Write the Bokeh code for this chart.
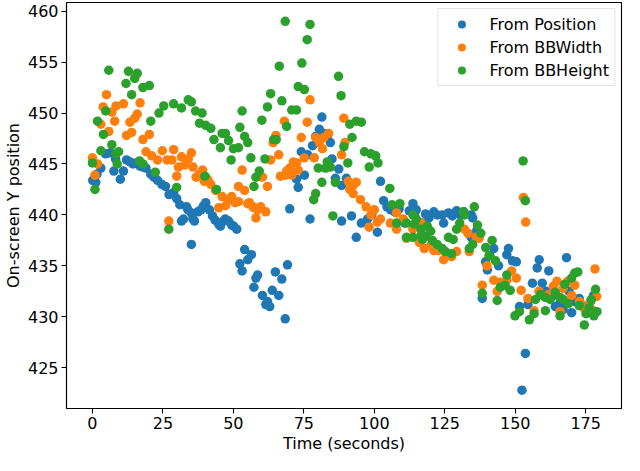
from bokeh.plotting import figure
from bokeh.models import Range1d, FixedTicker, Legend, LegendItem
from bokeh.embed import file_html
from bokeh.resources import INLINE

# ---- data: (time in seconds, on-screen Y position) ----
pos_t = [0.1, 1.2, 1.6, 3.0, 4.7, 6.4, 7.6, 8.2, 9.9, 11.0, 12.1, 13.4, 14.4, 15.6, 16.9, 17.9, 19.0,
         20.7, 21.8, 23.1, 24.6, 25.9, 27.2, 28.8, 29.9, 31.0, 31.6, 32.3, 33.4, 33.9, 35.1, 35.1, 35.6,
         36.2, 37.4, 38.5, 39.4, 40.2, 41.5, 42.6, 43.5, 44.8, 45.4, 46.0, 47.1, 48.3, 49.4, 50.1, 51.2,
         52.3, 53.1, 54.0, 55.1, 56.4, 57.3, 58.0, 58.6, 60.3, 61.5, 62.1, 62.9, 63.8, 64.9, 66.1, 67.2,
         68.4, 69.2, 70.0, 72.4, 73.0, 74.1, 75.2, 76.4, 77.2, 78.1, 79.2, 80.5, 81.4, 82.3, 83.3, 84.4,
         85.0, 86.2, 87.4, 88.4, 88.4, 90.1, 91.9, 93.6, 95.4, 97.6, 99.1, 101.1, 102.2, 103.3, 104.5,
         105.8, 107.3, 108.8, 110.8, 112.4, 113.7, 114.2, 114.9, 117.1, 118.2, 119.4, 121.1, 122.4,
         124.1, 124.6, 126.3, 127.7, 129.2, 130.6, 131.8, 133.7, 134.4, 134.4, 134.9, 136.4, 138.3,
         139.5, 140.1, 141.0, 142.4, 144.1, 147.0, 147.6, 149.0, 150.4, 151.5, 152.4, 153.6, 154.5,
         156.1, 157.8, 158.5, 159.6, 160.9, 161.9, 163.0, 164.2, 165.9, 167.0, 168.2, 169.1, 170.0,
         171.1, 172.7, 174.2, 175.7, 176.7, 177.8, 178.4]
pos_y = [443.4, 443.2, 444.0, 444.6, 446.0, 446.1, 444.3, 445.5, 443.5, 444.3, 445.4, 445.2, 445.0, 445.1,
         444.8, 444.7, 444.6, 444.0, 443.7, 443.4, 443.0, 442.8, 442.0, 442.2, 441.6, 441.0, 439.4, 439.6,
         440.8, 440.5, 440.2, 437.1, 439.6, 439.4, 440.3, 440.5, 440.9, 441.2, 440.5, 439.9, 439.5, 439.1,
         438.9, 439.3, 439.6, 439.4, 439.0, 438.9, 438.6, 435.2, 434.5, 436.6, 435.6, 436.1, 432.9, 433.8,
         434.1, 432.1, 431.2, 431.5, 431.0, 432.6, 434.4, 432.1, 433.7, 429.8, 435.1, 440.6, 443.5, 442.7,
         446.2, 443.9, 445.9, 439.6, 446.8, 447.7, 448.4, 449.6, 448.0, 447.7, 447.1, 445.5, 443.6, 444.5,
         442.9, 439.4, 443.6, 439.9, 437.8, 439.2, 439.6, 440.0, 438.3, 443.3, 441.4, 440.8, 440.5, 440.3,
         440.6, 439.2, 440.4, 441.1, 440.0, 440.5, 439.2, 440.1, 439.7, 440.3, 440.0, 440.0, 439.2, 440.2,
         439.9, 440.4, 440.0, 440.3, 438.1, 437.8, 440.0, 439.7, 438.5, 431.8, 435.4, 434.6, 436.0, 436.7,
         435.0, 436.1, 436.7, 435.5, 435.4, 431.0, 422.8, 426.4, 431.2, 433.3, 434.8, 435.6, 433.3, 432.5,
         434.5, 432.0, 431.0, 431.3, 430.7, 435.8, 432.5, 430.4, 431.5, 431.8, 431.0, 430.4, 431.5, 432.1,
         432.0]

bbw_t = [0.0, 0.9, 1.8, 3.0, 3.8, 5.0, 5.8, 6.9, 7.9, 8.4, 11.0, 12.1, 13.3, 13.9, 15.0, 15.9, 16.9,
         17.9, 19.0, 20.2, 21.0, 23.1, 24.8, 26.5, 27.1, 28.2, 28.8, 29.9, 30.5, 31.6, 32.8, 34.0, 35.1,
         35.7, 36.8, 37.9, 39.1, 39.7, 40.9, 42.0, 43.7, 44.8, 46.0, 47.2, 48.3, 49.4, 50.6, 51.8, 51.8,
         53.1, 54.0, 55.1, 55.7, 56.9, 57.5, 58.0, 58.6, 59.5, 59.7, 60.3, 61.5, 62.1, 63.2, 64.1, 65.1,
         66.1, 66.7, 68.1, 68.4, 68.9, 70.0, 70.7, 71.3, 72.4, 73.0, 74.1, 75.1, 76.2, 77.2, 78.7, 79.2,
         80.5, 81.6, 82.1, 83.8, 88.4, 89.2, 89.6, 90.8, 91.3, 92.5, 92.5, 93.6, 95.1, 97.1, 98.2, 98.8,
         100.0, 101.1, 102.2, 105.7, 107.9, 107.9, 110.3, 111.4, 113.7, 116.0, 116.6, 117.7, 120.0, 121.1,
         122.8, 124.6, 125.7, 127.4, 129.2, 132.0, 133.2, 133.7, 136.1, 137.2, 138.3, 140.0, 142.4, 143.6,
         144.7, 147.0, 148.7, 150.4, 152.1, 152.9, 153.7, 154.5, 156.7, 158.4, 160.4, 161.9, 163.5, 164.8,
         165.9, 167.0, 168.6, 170.0, 171.1, 172.8, 174.5, 176.2, 177.7, 178.3, 178.9]
bbw_y = [445.6, 443.9, 445.0, 448.9, 450.6, 451.8, 448.2, 450.1, 449.2, 450.7, 450.9, 447.8, 449.1, 448.1,
         449.5, 449.9, 451.0, 447.4, 446.2, 447.9, 445.8, 445.4, 446.3, 445.4, 439.4, 445.4, 446.4, 443.8,
         444.7, 445.7, 444.9, 445.5, 446.1, 444.7, 443.7, 444.0, 444.4, 443.3, 443.5, 443.0, 442.4, 440.7,
         441.8, 440.9, 441.5, 441.8, 441.2, 442.8, 441.3, 444.4, 442.4, 441.1, 441.2, 440.8, 440.7, 439.7,
         440.5, 443.8, 440.8, 443.7, 440.3, 442.8, 445.4, 447.1, 447.8, 445.9, 443.8, 449.2, 443.9, 444.3,
         444.6, 443.9, 445.2, 445.1, 444.4, 447.6, 445.6, 449.1, 451.3, 445.6, 447.6, 447.1, 446.5, 447.6,
         448.0, 445.9, 449.5, 447.1, 443.3, 442.5, 442.9, 442.1, 443.2, 441.5, 440.8, 438.8, 440.0, 440.5,
         439.3, 439.6, 439.2, 440.2, 438.6, 439.6, 437.7, 438.6, 437.3, 439.2, 436.7, 437.0, 436.5, 436.5,
         435.6, 436.0, 435.9, 436.4, 438.6, 438.2, 436.4, 437.8, 437.7, 433.1, 435.0, 433.6, 432.5, 433.4,
         433.6, 434.5, 433.8, 432.6, 441.7, 439.3, 431.8, 430.6, 432.5, 432.0, 432.2, 433.0, 433.5, 430.5,
         432.8, 433.5, 432.1, 433.1, 431.5, 430.8, 431.3, 430.6, 434.7, 432.0]

bbh_t = [0.0, 0.9, 1.8, 3.0, 3.9, 4.7, 5.8, 6.9, 8.3, 8.8, 9.3, 11.9, 12.8, 13.9, 15.0, 15.9, 16.7,
         17.9, 17.9, 20.2, 20.7, 22.3, 23.6, 25.3, 27.1, 28.8, 29.9, 31.6, 34.0, 35.1, 36.6, 38.0, 38.9,
         39.9, 40.2, 42.0, 43.1, 44.0, 45.4, 46.0, 47.2, 48.3, 49.2, 50.0, 51.8, 52.3, 53.1, 54.0, 55.1,
         56.2, 57.3, 58.0, 59.2, 60.1, 61.2, 62.1, 63.2, 64.3, 65.2, 66.3, 67.2, 68.4, 68.9, 70.7, 72.4,
         73.0, 74.3, 75.2, 76.2, 77.2, 78.5, 79.2, 80.1, 81.4, 82.7, 83.3, 84.4, 85.3, 86.2, 87.3, 88.2,
         89.2, 90.6, 91.3, 92.1, 93.6, 95.4, 96.5, 98.2, 98.8, 100.5, 101.3, 105.5, 106.3, 107.9, 109.1,
         111.4, 111.4, 113.7, 113.7, 114.2, 114.9, 116.6, 116.6, 117.1, 118.2, 118.8, 120.0, 120.6, 122.3,
         124.1, 125.2, 126.3, 127.4, 128.0, 129.2, 130.3, 131.5, 132.0, 133.7, 134.9, 135.5, 136.6, 137.8,
         138.3, 139.5, 140.7, 141.8, 143.0, 143.6, 144.7, 146.4, 147.0, 148.2, 149.9, 151.5, 152.8, 153.6,
         155.0, 156.7, 157.2, 159.0, 160.7, 160.7, 162.4, 164.2, 165.9, 165.9, 167.0, 167.6, 168.8, 170.0,
         171.1, 172.2, 172.7, 174.5, 175.1, 176.2, 177.0, 177.9, 178.5, 179.0]
bbh_y = [445.1, 442.5, 449.2, 446.3, 447.9, 450.2, 454.2, 446.9, 446.0, 445.0, 446.2, 452.9, 454.1, 451.8,
         453.4, 453.9, 445.3, 445.0, 452.5, 452.7, 449.2, 444.2, 450.0, 450.7, 438.6, 450.9, 442.7, 450.5,
         451.3, 451.1, 450.2, 449.0, 450.0, 443.8, 448.8, 448.5, 447.4, 442.5, 446.6, 448.0, 448.0, 447.3,
         445.4, 446.5, 446.6, 448.6, 450.2, 447.7, 447.1, 445.6, 442.8, 443.7, 444.3, 449.3, 445.5, 450.6,
         451.9, 447.4, 447.4, 454.6, 451.2, 459.0, 448.7, 450.3, 450.3, 452.6, 454.9, 452.3, 457.2, 458.7,
         441.5, 442.1, 444.6, 443.2, 444.6, 445.2, 444.7, 439.9, 443.2, 453.6, 451.7, 446.7, 445.1, 448.9,
         447.6, 449.2, 449.1, 446.2, 444.7, 446.0, 445.8, 445.1, 442.6, 441.0, 439.2, 441.1, 439.2, 437.8,
         437.8, 440.0, 439.1, 439.6, 438.0, 438.6, 437.6, 437.9, 438.9, 438.4, 437.5, 437.1, 436.7, 436.4,
         437.8, 436.2, 437.6, 438.6, 439.2, 440.3, 440.0, 436.7, 437.1, 440.8, 439.0, 438.2, 432.3, 436.8,
         436.0, 437.5, 435.5, 431.6, 432.9, 433.1, 434.1, 432.6, 430.1, 430.5, 445.3, 441.4, 429.7, 430.3,
         431.7, 432.2, 431.9, 430.6, 431.7, 432.4, 431.9, 430.1, 431.7, 433.2, 431.3, 433.8, 434.3, 434.4,
         431.1, 429.2, 430.3, 430.9, 431.7, 430.1, 432.7, 430.5]

x_ticks = [0, 25, 50, 75, 100, 125, 150, 175]
y_ticks = [425, 430, 435, 440, 445, 450, 455, 460]

series_names = ["From Position", "From BBWidth", "From BBHeight"]
colors = ["#1f77b4", "#ff7f0e", "#2ca02c"]

FONT = "DejaVu Sans"
FSIZE = "16px"

p = figure(width=624, height=455, output_backend="svg", toolbar_location=None,
           x_range=Range1d(-9.2, 187.7), y_range=Range1d(421.0, 460.85),
           min_border_left=0, min_border_right=3, min_border_top=2, min_border_bottom=0)
p.xgrid.visible = False
p.ygrid.visible = False
p.outline_line_color = "black"
p.outline_line_width = 1.1
p.background_fill_color = "white"
p.border_fill_color = "white"

p.xaxis.ticker = FixedTicker(ticks=x_ticks)
p.yaxis.ticker = FixedTicker(ticks=y_ticks)
for ax in (p.xaxis[0], p.yaxis[0]):
    ax.major_tick_out = 5
    ax.major_tick_in = 0
    ax.minor_tick_out = 0
    ax.minor_tick_in = 0
    ax.major_tick_line_color = "black"
    ax.major_tick_line_width = 1.1
    ax.axis_line_color = "black"
    ax.axis_line_width = 1.1
    ax.major_label_text_font = FONT
    ax.major_label_text_font_size = FSIZE
    ax.major_label_text_color = "black"
    ax.axis_label_text_font = FONT
    ax.axis_label_text_font_size = FSIZE
    ax.axis_label_text_font_style = "normal"
    ax.axis_label_text_color = "black"
    ax.major_label_standoff = 3
    ax.axis_label_standoff = 2

p.xaxis.axis_label = "Time (seconds)"
p.yaxis.axis_label = "On-screen Y position"

items = []
for xs, ys, name, c in zip([pos_t, bbw_t, bbh_t], [pos_y, bbw_y, bbh_y], series_names, colors):
    r = p.scatter(xs, ys, size=9.5, fill_color=c, line_color=None, marker="circle")
    items.append(LegendItem(label=name, renderers=[r]))

legend = Legend(items=items, location="top_right")
legend.label_text_font = FONT
legend.label_text_font_size = FSIZE
legend.label_text_color = "black"
legend.border_line_color = "#cccccc"
legend.border_line_width = 1
legend.background_fill_color = "white"
legend.background_fill_alpha = 0.8
legend.padding = 5
legend.margin = 6
legend.spacing = 3
legend.glyph_width = 36
legend.glyph_height = 20
legend.label_height = 20
legend.label_standoff = 10
p.add_layout(legend)

open("out.html", "w").write(file_html(p, INLINE))
